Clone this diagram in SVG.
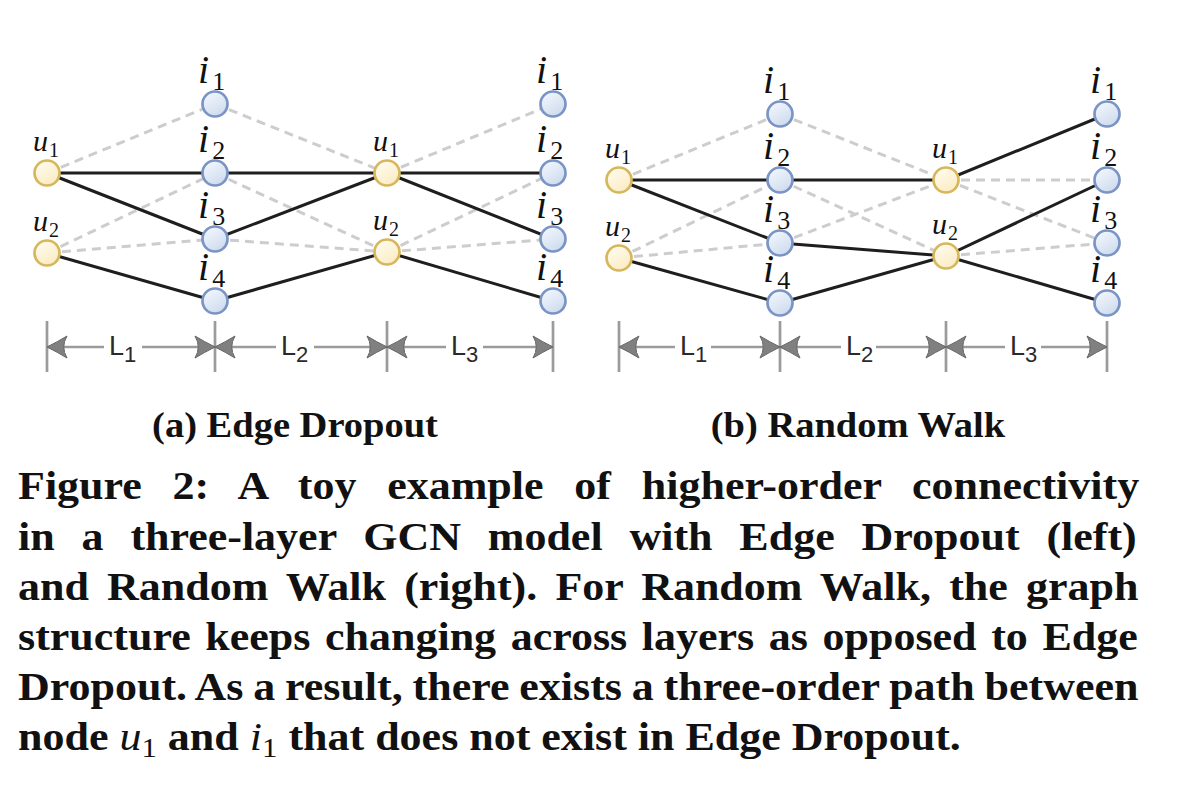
<svg xmlns="http://www.w3.org/2000/svg" width="1194" height="786" viewBox="0 0 1194 786">
<defs>
<linearGradient id="gi" x1="0" y1="0" x2="0.6" y2="1">
<stop offset="0" stop-color="#f7faff"/>
<stop offset="1" stop-color="#cfdcee"/>
</linearGradient>
<linearGradient id="gu" x1="0" y1="0" x2="0.6" y2="1">
<stop offset="0" stop-color="#fffdf4"/>
<stop offset="1" stop-color="#fbecc4"/>
</linearGradient>
<marker id="arr" markerUnits="userSpaceOnUse" viewBox="0 0 21 24" refX="21" refY="12" markerWidth="21" markerHeight="24" orient="auto-start-reverse">
<path d="M21,12 Q10,6.5 1,1 Q7.5,12 1,23 Q10,17.5 21,12 Z" fill="#808080" stroke="#666666" stroke-width="1"/>
</marker>
<style>
.s{stroke:#1e1e1e;stroke-width:3;fill:none}
.d{stroke:#cdcdcd;stroke-width:3;stroke-dasharray:9 6;fill:none}
.ni{fill:url(#gi);stroke:#7a94c6;stroke-width:2.7}
.nu{fill:url(#gu);stroke:#d6b75c;stroke-width:2.7}
.lab{font-family:"Liberation Serif",serif;fill:#111}
.mu{font-style:italic;font-size:30px}
.mi{font-style:italic;font-size:40px}
.dim{stroke:#9b9b9b;stroke-width:2.7;fill:none}
.dl{stroke:#9b9b9b;stroke-width:2.5;fill:none}
.Lt{font-family:"Liberation Sans",Arial,sans-serif;font-size:27px;fill:#2a2a2a}
.cap{font-family:"Liberation Serif",serif;font-weight:bold;font-size:40px;fill:#111}
.sub{font-family:"Liberation Serif",serif;font-weight:bold;font-size:35px;fill:#111}
.it{font-style:italic;font-weight:normal}
</style>
</defs>
<rect width="1194" height="786" fill="#ffffff"/>

<g id="connectors">
<line class="d" x1="47" y1="173" x2="215" y2="104"/>
<line class="d" x1="47" y1="253" x2="215" y2="173"/>
<line class="d" x1="47" y1="253" x2="215" y2="239"/>
<line class="d" x1="215" y1="104" x2="387" y2="173"/>
<line class="d" x1="215" y1="173" x2="387" y2="252"/>
<line class="d" x1="215" y1="239" x2="387" y2="252"/>
<line class="d" x1="387" y1="173" x2="553" y2="104"/>
<line class="d" x1="387" y1="252" x2="553" y2="173"/>
<line class="d" x1="387" y1="252" x2="553" y2="239"/>
<line class="s" x1="47" y1="173" x2="215" y2="173"/>
<line class="s" x1="47" y1="173" x2="215" y2="239"/>
<line class="s" x1="47" y1="253" x2="215" y2="301"/>
<line class="s" x1="215" y1="173" x2="387" y2="173"/>
<line class="s" x1="215" y1="239" x2="387" y2="173"/>
<line class="s" x1="215" y1="301" x2="387" y2="252"/>
<line class="s" x1="387" y1="173" x2="553" y2="173"/>
<line class="s" x1="387" y1="173" x2="553" y2="239"/>
<line class="s" x1="387" y1="252" x2="553" y2="301"/>
<line class="d" x1="619" y1="180" x2="780" y2="114"/>
<line class="d" x1="619" y1="258" x2="780" y2="180"/>
<line class="d" x1="619" y1="258" x2="780" y2="243"/>
<line class="d" x1="780" y1="114" x2="946" y2="180"/>
<line class="d" x1="780" y1="180" x2="946" y2="256"/>
<line class="d" x1="780" y1="243" x2="946" y2="180"/>
<line class="d" x1="946" y1="180" x2="1107" y2="180"/>
<line class="d" x1="946" y1="180" x2="1107" y2="243"/>
<line class="d" x1="946" y1="256" x2="1107" y2="243"/>
<line class="s" x1="619" y1="180" x2="780" y2="180"/>
<line class="s" x1="619" y1="180" x2="780" y2="243"/>
<line class="s" x1="619" y1="258" x2="780" y2="303"/>
<line class="s" x1="780" y1="180" x2="946" y2="180"/>
<line class="s" x1="780" y1="243" x2="946" y2="256"/>
<line class="s" x1="780" y1="303" x2="946" y2="256"/>
<line class="s" x1="946" y1="180" x2="1107" y2="114"/>
<line class="s" x1="946" y1="256" x2="1107" y2="180"/>
<line class="s" x1="946" y1="256" x2="1107" y2="303"/>
</g>

<g id="a-c1-u1"><circle class="nu" cx="47" cy="173" r="12.5"/><text class="lab" x="33" y="151"><tspan class="mu">u</tspan><tspan font-size="20" dx="1" dy="6">1</tspan></text></g>
<g id="a-c1-u2"><circle class="nu" cx="47" cy="253" r="12.5"/><text class="lab" x="33" y="231"><tspan class="mu">u</tspan><tspan font-size="20" dx="1" dy="6">2</tspan></text></g>
<g id="a-c2-i1"><circle class="ni" cx="215" cy="104" r="12.5"/><text class="lab" x="198" y="83"><tspan class="mi">i</tspan><tspan font-size="26" dx="3" dy="7">1</tspan></text></g>
<g id="a-c2-i2"><circle class="ni" cx="215" cy="173" r="12.5"/><text class="lab" x="198" y="152"><tspan class="mi">i</tspan><tspan font-size="26" dx="3" dy="7">2</tspan></text></g>
<g id="a-c2-i3"><circle class="ni" cx="215" cy="239" r="12.5"/><text class="lab" x="198" y="218"><tspan class="mi">i</tspan><tspan font-size="26" dx="3" dy="7">3</tspan></text></g>
<g id="a-c2-i4"><circle class="ni" cx="215" cy="301" r="12.5"/><text class="lab" x="198" y="280"><tspan class="mi">i</tspan><tspan font-size="26" dx="3" dy="7">4</tspan></text></g>
<g id="a-c3-u1"><circle class="nu" cx="387" cy="173" r="12.5"/><text class="lab" x="373" y="151"><tspan class="mu">u</tspan><tspan font-size="20" dx="1" dy="6">1</tspan></text></g>
<g id="a-c3-u2"><circle class="nu" cx="387" cy="252" r="12.5"/><text class="lab" x="373" y="230"><tspan class="mu">u</tspan><tspan font-size="20" dx="1" dy="6">2</tspan></text></g>
<g id="a-c4-i1"><circle class="ni" cx="553" cy="104" r="12.5"/><text class="lab" x="536" y="83"><tspan class="mi">i</tspan><tspan font-size="26" dx="3" dy="7">1</tspan></text></g>
<g id="a-c4-i2"><circle class="ni" cx="553" cy="173" r="12.5"/><text class="lab" x="536" y="152"><tspan class="mi">i</tspan><tspan font-size="26" dx="3" dy="7">2</tspan></text></g>
<g id="a-c4-i3"><circle class="ni" cx="553" cy="239" r="12.5"/><text class="lab" x="536" y="218"><tspan class="mi">i</tspan><tspan font-size="26" dx="3" dy="7">3</tspan></text></g>
<g id="a-c4-i4"><circle class="ni" cx="553" cy="301" r="12.5"/><text class="lab" x="536" y="280"><tspan class="mi">i</tspan><tspan font-size="26" dx="3" dy="7">4</tspan></text></g>

<g id="b-c1-u1"><circle class="nu" cx="619" cy="180" r="12.5"/><text class="lab" x="605" y="158"><tspan class="mu">u</tspan><tspan font-size="20" dx="1" dy="6">1</tspan></text></g>
<g id="b-c1-u2"><circle class="nu" cx="619" cy="258" r="12.5"/><text class="lab" x="605" y="236"><tspan class="mu">u</tspan><tspan font-size="20" dx="1" dy="6">2</tspan></text></g>
<g id="b-c2-i1"><circle class="ni" cx="780" cy="114" r="12.5"/><text class="lab" x="763" y="93"><tspan class="mi">i</tspan><tspan font-size="26" dx="3" dy="7">1</tspan></text></g>
<g id="b-c2-i2"><circle class="ni" cx="780" cy="180" r="12.5"/><text class="lab" x="763" y="159"><tspan class="mi">i</tspan><tspan font-size="26" dx="3" dy="7">2</tspan></text></g>
<g id="b-c2-i3"><circle class="ni" cx="780" cy="243" r="12.5"/><text class="lab" x="763" y="222"><tspan class="mi">i</tspan><tspan font-size="26" dx="3" dy="7">3</tspan></text></g>
<g id="b-c2-i4"><circle class="ni" cx="780" cy="303" r="12.5"/><text class="lab" x="763" y="282"><tspan class="mi">i</tspan><tspan font-size="26" dx="3" dy="7">4</tspan></text></g>
<g id="b-c3-u1"><circle class="nu" cx="946" cy="180" r="12.5"/><text class="lab" x="932" y="158"><tspan class="mu">u</tspan><tspan font-size="20" dx="1" dy="6">1</tspan></text></g>
<g id="b-c3-u2"><circle class="nu" cx="946" cy="256" r="12.5"/><text class="lab" x="932" y="234"><tspan class="mu">u</tspan><tspan font-size="20" dx="1" dy="6">2</tspan></text></g>
<g id="b-c4-i1"><circle class="ni" cx="1107" cy="114" r="12.5"/><text class="lab" x="1090" y="93"><tspan class="mi">i</tspan><tspan font-size="26" dx="3" dy="7">1</tspan></text></g>
<g id="b-c4-i2"><circle class="ni" cx="1107" cy="180" r="12.5"/><text class="lab" x="1090" y="159"><tspan class="mi">i</tspan><tspan font-size="26" dx="3" dy="7">2</tspan></text></g>
<g id="b-c4-i3"><circle class="ni" cx="1107" cy="243" r="12.5"/><text class="lab" x="1090" y="222"><tspan class="mi">i</tspan><tspan font-size="26" dx="3" dy="7">3</tspan></text></g>
<g id="b-c4-i4"><circle class="ni" cx="1107" cy="303" r="12.5"/><text class="lab" x="1090" y="282"><tspan class="mi">i</tspan><tspan font-size="26" dx="3" dy="7">4</tspan></text></g>

<g id="dims">
<line class="dim" x1="47" y1="321" x2="47" y2="372"/>
<line class="dim" x1="215" y1="321" x2="215" y2="372"/>
<line class="dim" x1="387" y1="321" x2="387" y2="372"/>
<line class="dim" x1="553" y1="321" x2="553" y2="372"/>
<line class="dl" x1="47" y1="347" x2="104" y2="347" marker-start="url(#arr)"/>
<line class="dl" x1="142" y1="347" x2="215" y2="347" marker-end="url(#arr)"/>
<line class="dl" x1="215" y1="347" x2="276" y2="347" marker-start="url(#arr)"/>
<line class="dl" x1="314" y1="347" x2="387" y2="347" marker-end="url(#arr)"/>
<line class="dl" x1="387" y1="347" x2="446" y2="347" marker-start="url(#arr)"/>
<line class="dl" x1="483" y1="347" x2="553" y2="347" marker-end="url(#arr)"/>
<text class="Lt" x="109" y="355">L<tspan font-size="22" dy="7">1</tspan></text>
<text class="Lt" x="281" y="355">L<tspan font-size="22" dy="7">2</tspan></text>
<text class="Lt" x="451" y="355">L<tspan font-size="22" dy="7">3</tspan></text>

<line class="dim" x1="619" y1="321" x2="619" y2="372"/>
<line class="dim" x1="780" y1="321" x2="780" y2="372"/>
<line class="dim" x1="946" y1="321" x2="946" y2="372"/>
<line class="dim" x1="1107" y1="321" x2="1107" y2="372"/>
<line class="dl" x1="619" y1="347" x2="675" y2="347" marker-start="url(#arr)"/>
<line class="dl" x1="711" y1="347" x2="780" y2="347" marker-end="url(#arr)"/>
<line class="dl" x1="780" y1="347" x2="841" y2="347" marker-start="url(#arr)"/>
<line class="dl" x1="876" y1="347" x2="946" y2="347" marker-end="url(#arr)"/>
<line class="dl" x1="946" y1="347" x2="1005" y2="347" marker-start="url(#arr)"/>
<line class="dl" x1="1041" y1="347" x2="1107" y2="347" marker-end="url(#arr)"/>
<text class="Lt" x="680" y="355">L<tspan font-size="22" dy="7">1</tspan></text>
<text class="Lt" x="846" y="355">L<tspan font-size="22" dy="7">2</tspan></text>
<text class="Lt" x="1010" y="355">L<tspan font-size="22" dy="7">3</tspan></text>
</g>

<g id="captions" transform="scale(1.1 1)">
<text class="sub" x="268.2" y="437" text-anchor="middle">(a) Edge Dropout</text>
<text class="sub" x="780" y="437" text-anchor="middle">(b) Random Walk</text>
<text class="cap" x="16.4" y="499.5" word-spacing="18.0">Figure 2: A toy example of higher-order connectivity</text>
<text class="cap" x="16.4" y="549.6" word-spacing="14.4">in a three-layer GCN model with Edge Dropout (left)</text>
<text class="cap" x="16.4" y="599.7" word-spacing="6.5">and Random Walk (right). For Random Walk, the graph</text>
<text class="cap" x="16.4" y="649.8" word-spacing="3.3">structure keeps changing across layers as opposed to Edge</text>
<text class="cap" x="16.4" y="699.9" word-spacing="-1.05">Dropout. As a result, there exists a three-order path between</text>
<text class="cap" x="16.4" y="750">node <tspan class="it">u</tspan><tspan font-weight="normal" font-size="28" dy="7">1</tspan><tspan dy="-7"> and </tspan><tspan class="it">i</tspan><tspan font-weight="normal" font-size="28" dy="7">1</tspan><tspan dy="-7"> that does not exist in Edge Dropout.</tspan></text>
</g>
</svg>
